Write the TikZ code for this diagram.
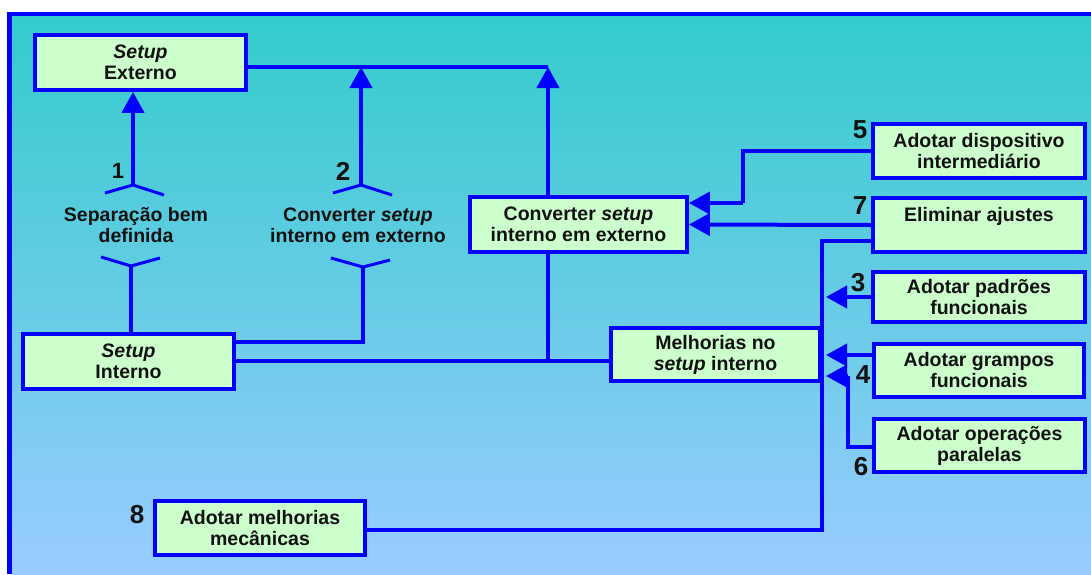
\documentclass[tikz,border=0pt]{standalone}
\usepackage{fontspec}
\setmainfont{Liberation Sans}
\usetikzlibrary{arrows.meta}
\definecolor{topc}{HTML}{33CCCC}
\definecolor{botc}{HTML}{99CCFF}
\definecolor{boxfill}{HTML}{CCFFCC}
\definecolor{lblue}{HTML}{0000FF}
\definecolor{txt}{HTML}{111111}
\begin{document}
\begin{tikzpicture}[x=1pt,y=-1pt,
  conn/.style={draw=lblue,line width=4pt},
  fork/.style={draw=lblue,line width=3pt},
  arr/.style={conn,-{Triangle[width=22pt 0 0,length=21pt 0 0]}},
  box/.style={draw=lblue,line width=3.8pt,fill=boxfill,align=center,inner sep=0pt,
    text=txt,font=\fontsize{19.5}{21}\selectfont\bfseries},
  plain/.style={align=center,inner sep=0pt,text=txt,font=\fontsize{19.5}{21}\selectfont\bfseries},
  num/.style={inner sep=0pt,text=txt,font=\fontsize{26}{26}\selectfont\bfseries}]
\useasboundingbox (0,0) rectangle (1091,574);
\fill[white] (0,0) rectangle (1091,574);
\shade[top color=topc,bottom color=botc] (12,16) rectangle (1091,574);
\draw[lblue,line width=4pt] (7,14) -- (1091,14);
\draw[lblue,line width=5pt] (9.5,12) -- (9.5,574);
% boxes
\node[box,minimum width=211pt,minimum height=55pt] (ext) at (140.5,62.5) {\textit{Setup}\\Externo};
\node[box,minimum width=211pt,minimum height=55pt] (int) at (128.5,361.5) {\textit{Setup}\\Interno};
\node[box,minimum width=217pt,minimum height=55pt] (conv) at (578.5,224.5) {Converter \textit{setup}\\interno em externo};
\node[box,minimum width=209pt,minimum height=53pt] (mel) at (715.5,354.5) {Melhorias no\\\textit{setup} interno};
\node[box,minimum width=212pt,minimum height=54pt] (disp) at (979,151) {Adotar dispositivo\\intermediário};
\node[box,minimum width=212pt,minimum height=54pt] (elim) at (979,225) {Eliminar ajustes\\\mbox{}};
\node[box,minimum width=212pt,minimum height=50pt] (padr) at (979,297) {Adotar padrões\\funcionais};
\node[box,minimum width=210pt,minimum height=53pt] (gramp) at (979,370.5) {Adotar grampos\\funcionais};
\node[box,minimum width=211pt,minimum height=53pt] (oper) at (979.5,445.5) {Adotar operações\\paralelas};
\node[box,minimum width=210pt,minimum height=54pt] (mec) at (260,528) {Adotar melhorias\\mecânicas};
% free texts
\node[plain] (t1) at (136,225) {Separação bem\\definida};
\node[plain] (t2) at (358,225) {Converter \textit{setup}\\interno em externo};
% numbers
\node[num,font=\fontsize{22}{22}\selectfont\bfseries] (n1) at (118,171) {1};
\node[num] (n2) at (343,171) {2};
\node[num] (n5) at (860,130) {5};
\node[num] (n7) at (860,206) {7};
\node[num] (n3) at (858,283) {3};
\node[num] (n4) at (863,375) {4};
\node[num] (n6) at (861,467) {6};
\node[num] (n8) at (137,515) {8};
% coordinates
\coordinate (c1) at (548,67);
\coordinate (f1) at (133,185);
\coordinate (g1) at (131,266);
\coordinate (f2) at (361,185);
\coordinate (g2) at (363,267);
\coordinate (f1a) at (105,193);
\coordinate (f1b) at (164,195);
\coordinate (g1a) at (101,257);
\coordinate (g1b) at (160,258);
\coordinate (f2a) at (333,193);
\coordinate (f2b) at (392,195);
\coordinate (g2a) at (331,258);
\coordinate (g2b) at (390,260);
\coordinate (k2) at (363,342);
\coordinate (m1) at (548,361);
\coordinate (d1) at (743,151);
\coordinate (d2) at (743,203);
\coordinate (v1) at (822,241);
\coordinate (v2) at (822,530);
\coordinate (o1) at (848,447);
\coordinate (o2) at (848,376);
\coordinate (tipP) at (826,297);
\coordinate (tipG) at (826,355);
\coordinate (tipO) at (826,376);
% connectors
\draw[conn] (ext.east |- c1) -- (c1);
\draw[arr] (c1 |- conv.north) -- (c1);
\draw[conn] (c1 |- conv.south) -- (m1);
\draw[conn] (int.east |- m1) -- (mel.west |- m1);
\draw[arr] (f1) -- (f1 |- ext.south);
\draw[fork] (f1a) -- (f1) -- (f1b);
\draw[fork] (g1a) -- (g1) -- (g1b);
\draw[conn] (g1) -- (g1 |- int.north);
\draw[arr] (f2) -- (f2 |- c1);
\draw[fork] (f2a) -- (f2) -- (f2b);
\draw[fork] (g2a) -- (g2) -- (g2b);
\draw[conn] (g2) -- (k2) -- (int.east |- k2);
\draw[conn] (disp.west) -- (d1) -- (d2);
\draw[arr] (d2) -- (conv.east |- d2);
\draw[arr] (elim.west) -- (conv.east);
\draw[conn] (elim.west |- v1) -- (v1) -- (v2) -- (mec.east |- v2);
\draw[arr] (padr.west |- tipP) -- (tipP);
\draw[arr] (gramp.west |- tipG) -- (tipG);
\draw[conn] (oper.west |- o1) -- (o1) -- (o2);
\draw[arr] (o2) -- (tipO);
\end{tikzpicture}
\end{document}
